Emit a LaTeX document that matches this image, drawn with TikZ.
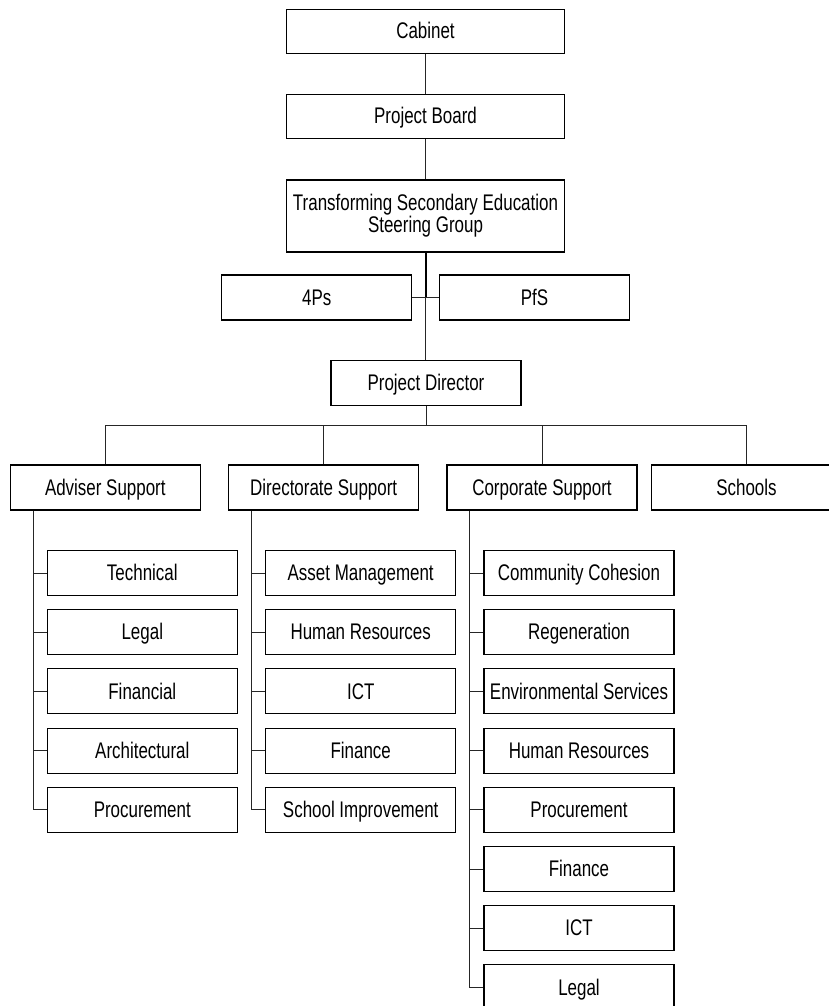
\documentclass[tikz,border=0pt]{standalone}
\usepackage{fontspec}
\setmainfont{Liberation Sans}[FakeStretch=0.75]
\begin{document}
\begin{tikzpicture}[x=1pt,y=-1pt,
  base/.style={draw=black,line width=1.1pt,fill=white,inner sep=0pt,
    minimum width=190pt,minimum height=45pt,align=center,
    font=\fontsize{22.6}{21}\selectfont},
  box/.style={base,text height=16pt,text depth=0.6pt},
  wide/.style={box,minimum width=277.6pt,minimum height=44pt},
  conn/.style={draw=black!85,line width=0.9pt},
  thick/.style={draw=black,line width=2pt}]
\clip (0,0) rectangle (829,1006);
\useasboundingbox (0,0) rectangle (829,1006);
% top chain
\node[wide] (cab) at (425.5,31.2) {Cabinet};
\node[wide] (pb) at (425.5,116.3) {Project Board};
\node[base,minimum width=277.6pt,minimum height=72pt] (tse) at (425.5,216) {Transforming Secondary Education\\Steering Group};
\node[box] (fourps) at (316.8,297.5) {4Ps};
\node[box] (pfs) at (534.5,297.5) {PfS};
\node[box] (pd) at (426,382.7) {Project Director};
% headers
\node[box] (adv) at (105.3,487.5) {Adviser Support};
\node[box] (dir) at (323.7,487.5) {Directorate Support};
\node[box] (corp) at (542,487.5) {Corporate Support};
\node[box] (sch) at (746.5,487.5) {Schools};
% adviser children
\node[box] (a1) at (142.3,573) {Technical};
\node[box] (a2) at (142.3,632.2) {Legal};
\node[box] (a3) at (142.3,691.4) {Financial};
\node[box] (a4) at (142.3,750.6) {Architectural};
\node[box] (a5) at (142.3,809.8) {Procurement};
% directorate children
\node[box] (d1) at (360.7,573) {Asset Management};
\node[box] (d2) at (360.7,632.2) {Human Resources};
\node[box] (d3) at (360.7,691.4) {ICT};
\node[box] (d4) at (360.7,750.6) {Finance};
\node[box] (d5) at (360.7,809.8) {School Improvement};
% corporate children
\node[box] (c1) at (579,573) {Community Cohesion};
\node[box] (c2) at (579,632.2) {Regeneration};
\node[box] (c3) at (579,691.4) {Environmental Services};
\node[box] (c4) at (579,750.6) {Human Resources};
\node[box] (c5) at (579,809.8) {Procurement};
\node[box] (c6) at (579,869) {Finance};
\node[box] (c7) at (579,928.2) {ICT};
\node[box] (c8) at (579,987.4) {Legal};
% connectors top
\draw[conn] (cab.south) -- (pb.north);
\draw[conn] (pb.south) -- (tse.north);
\coordinate (jn) at (tse.south |- fourps.east);
\draw[thick] (tse.south) -- (jn);
\draw[conn,line width=1.3pt] (fourps.east) -- (pfs.west);
\draw[conn] (jn) -- (jn |- pd.north);
% bus
\coordinate (bus) at (0,425);
\draw[conn] (pd.south) -- (pd.south |- bus);
\draw[conn] (adv.north) -- (adv.north |- bus) -- (sch.north |- bus) -- (sch.north);
\draw[conn] (dir.north) -- (dir.north |- bus);
\draw[conn] (corp.north) -- (corp.north |- bus);
% spines
\foreach \h/\last/\kids in {adv/a5/{a1,a2,a3,a4,a5},dir/d5/{d1,d2,d3,d4,d5},corp/c8/{c1,c2,c3,c4,c5,c6,c7,c8}}{
  \coordinate (sp) at ([xshift=23.4pt]\h.south west);
  \draw[conn] (sp) -- (sp |- \last.west) -- (\last.west);
  \foreach \k in \kids {\draw[conn] (sp |- \k.west) -- (\k.west);}
}
\end{tikzpicture}
\end{document}
